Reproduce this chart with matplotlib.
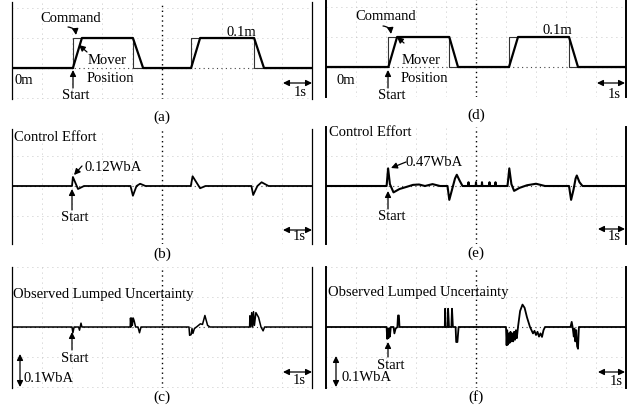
import matplotlib
matplotlib.use("Agg")
import matplotlib.pyplot as plt

plt.rcParams['font.family'] = ['Liberation Serif', 'DejaVu Serif']

W, H = 629, 406

# ---------------- data ----------------
# (a) position tracking, metres
a_cmd_t = [0, 2.03, 2.03, 4.03, 4.03, 5.97, 5.97, 8.07, 8.07, 10]
a_cmd_v = [0, 0, 0.1, 0.1, 0, 0, 0.1, 0.1, 0, 0]
a_pos_t = [0, 2.03, 2.33, 4.03, 4.37, 5.97, 6.27, 8.07, 8.40, 10]
a_pos_v = [0, 0, 0.1, 0.1, 0, 0, 0.1, 0.1, 0, 0]

# (d) position tracking, metres
d_cmd_t = [0, 2.08, 2.08, 4.11, 4.11, 6.10, 6.10, 8.10, 8.10, 10]
d_cmd_v = [0, 0, 0.1, 0.1, 0, 0, 0.1, 0.1, 0, 0]
d_pos_t = [0, 2.08, 2.37, 4.11, 4.40, 6.10, 6.40, 8.10, 8.40, 10]
d_pos_v = [0, 0, 0.1, 0.1, 0, 0, 0.1, 0.1, 0, 0]

# (b) control effort, WbA
b_t = [0, 2.0, 2.03, 2.2, 2.4, 3.95, 4.03, 4.15, 4.27, 4.45,
       5.96, 6.02, 6.27, 6.45, 7.98, 8.04, 8.18, 8.32, 8.55, 10]
b_v = [0, 0, 0.12, -0.04, 0, 0, -0.13, 0.0, 0.03, 0,
       0, 0.13, -0.03, 0, 0, -0.12, 0, 0.05, 0, 0]

# (e) control effort, WbA
e_t = [0, 2.02, 2.07, 2.13, 2.25, 2.45, 2.7, 2.9, 3.1, 3.3, 3.55, 3.8,
       4.05, 4.11, 4.2, 4.3, 4.36, 4.45, 4.55,
       4.74, 4.75, 4.76, 4.99, 5.0, 5.01, 5.19, 5.2, 5.21, 5.44, 5.45, 5.46,
       5.64, 5.65, 5.66,
       6.05, 6.11, 6.18, 6.27, 6.45, 6.7, 7.0, 7.3,
       8.10, 8.17, 8.25, 8.32, 8.36, 8.45, 8.55, 10]
e_v = [0, 0, 0.47, 0.05, -0.17, -0.08, -0.02, 0.03, 0.04, 0.0, 0.05, 0.0,
       0, -0.37, -0.1, 0.2, 0.3, 0.15, 0,
       0, 0.1, 0, 0, 0.1, 0, 0, 0.1, 0, 0, 0.1, 0,
       0, 0.1, 0,
       0, 0.47, 0.05, -0.13, -0.05, 0.02, 0.06, 0.0,
       0, -0.37, -0.1, 0.2, 0.28, 0.1, 0, 0]

# (c) observed lumped uncertainty, WbA
c_t = [0, 2.0, 2.03, 2.07, 2.22, 2.25, 2.3, 2.33,
       3.94, 3.95, 3.97, 3.99, 4.01, 4.04, 4.07, 4.12, 4.2, 4.25, 4.3,
       5.9, 5.92, 5.97, 6.0, 6.03, 6.08, 6.15, 6.28, 6.35, 6.43, 6.52, 6.6,
       7.92, 7.93, 7.96, 7.99, 8.02, 8.05, 8.08, 8.13, 8.22, 8.3, 8.37, 8.42, 10]
c_v = [0, 0, -0.018, 0, 0, -0.01, 0.012, 0,
       0, 0.028, 0.0, 0.028, 0.005, 0.028, 0.02, 0.0, 0.0, -0.018, 0,
       0, -0.026, -0.024, -0.005, -0.02, -0.005, 0.0, 0.01, 0.008, 0.036, 0.005, 0,
       0, 0.035, 0.0, 0.045, 0.0, 0.048, 0.005, 0.045, 0.03, 0.0, -0.012, 0, 0]

# (f) observed lumped uncertainty, WbA
f_t = [0, 2.02, 2.04, 2.06, 2.08, 2.10, 2.13, 2.16, 2.25, 2.28, 2.32, 2.38, 2.4, 2.43, 2.45,
       3.96, 3.97, 3.99, 4.06, 4.07, 4.10, 4.18, 4.20, 4.23, 4.32, 4.34, 4.38, 4.42,
       6.0, 6.02, 6.04, 6.06, 6.09, 6.12, 6.15, 6.18, 6.21, 6.24, 6.27, 6.3, 6.33, 6.36, 6.4,
       6.47, 6.55, 6.62, 6.7, 6.8, 6.85, 6.9, 6.95, 7.0, 7.05, 7.1, 7.15, 7.2, 7.25, 7.3,
       8.15, 8.19, 8.22, 8.26, 8.28, 8.31, 8.34, 8.37, 8.4, 8.43, 10]
f_v = [0, 0, -0.037, -0.005, -0.035, -0.005, -0.03, 0, 0, -0.02, -0.005, 0.0, 0.036, 0.036, 0,
       0, 0.057, 0.0, 0.0, 0.057, 0.0, 0.0, 0.057, 0.0, 0.0, -0.047, -0.047, 0,
       0, -0.057, -0.01, -0.055, -0.02, -0.05, -0.015, -0.045, -0.02, -0.045, -0.015, -0.04, -0.01, -0.035, 0,
       0.05, 0.07, 0.06, 0.03, 0.0, -0.01, -0.02, -0.012, -0.025, -0.015, -0.03, -0.02, -0.031, -0.01, 0,
       0, 0.016, 0.0, -0.03, -0.005, -0.045, -0.01, -0.06, -0.068, 0, 0]

captions = ['(a)', '(b)', '(c)', '(d)', '(e)', '(f)']

# ---------------- layout ----------------
fig = plt.figure(figsize=(W / 100, H / 100), dpi=100)


def P(x, y):
    return (x / W, 1 - y / H)


def make_ax(x0, y0, x1, y1, base, scale, lw_spine):
    ax = fig.add_axes([x0 / W, 1 - y1 / H, (x1 - x0) / W, (y1 - y0) / H])
    ax.set_xlim(0, 10)
    ax.set_ylim(-(y1 - base) / scale, (base - y0) / scale)
    for s in ['top', 'bottom']:
        ax.spines[s].set_visible(False)
    for s in ['left', 'right']:
        ax.spines[s].set_linewidth(lw_spine)
        ax.spines[s].set_color('black')
    ax.set_xticks([])
    ax.set_yticks([])
    ax.patch.set_alpha(0)
    # graticule
    for t in range(1, 10):
        if t == 5:
            ax.axvline(t, color='black', lw=1.0, ls=(0, (1, 2.5)), zorder=1)
        else:
            ax.axvline(t, color='#b5b5b5', lw=0.6, ls=(0, (1, 5)), zorder=1)
    step = 30 / scale
    for k in (-2, -1, 1, 2):
        ax.axhline(k * step, color='#b5b5b5', lw=0.6, ls=(0, (1, 5)), zorder=1)
    ax.axhline(0, color='#444444', lw=0.8, ls=(0, (1, 3)), zorder=1)
    return ax


axa = make_ax(12, 3, 312, 100, 69, 300, 0.9)
axd = make_ax(326, 0, 626, 98, 68, 300, 1.4)
axb = make_ax(12, 130, 312, 245, 187, 75, 0.9)
axe = make_ax(326, 128, 626, 245, 187, 37.5, 1.4)
axc = make_ax(12, 268, 312, 389, 328, 320, 0.9)
axf = make_ax(326, 268, 626, 389, 328, 320, 1.4)

# traces
for ax, ct, cv, pt, pv in [(axa, a_cmd_t, a_cmd_v, a_pos_t, a_pos_v),
                           (axd, d_cmd_t, d_cmd_v, d_pos_t, d_pos_v)]:
    ax.plot(ct, cv, color='#333333', lw=0.8, zorder=3)
    ax.plot(pt, pv, color='black', lw=1.6, zorder=4)

axb.plot(b_t, b_v, color='black', lw=1.3, zorder=4)
axe.plot(e_t, e_v, color='black', lw=1.5, zorder=4)
axc.plot(c_t, c_v, color='black', lw=1.1, zorder=4)
axf.plot(f_t, f_v, color='black', lw=1.3, zorder=4)

FS = 10.5
arr = dict(arrowstyle='-|>', color='black', lw=0.9, mutation_scale=9, shrinkA=0, shrinkB=0)
darr = dict(arrowstyle='<|-|>', color='black', lw=0.9, mutation_scale=9, shrinkA=0, shrinkB=0)


def txt(x, y, s, ha='center', size=FS):
    fig.text(*P(x, y), s, ha=ha, va='center', fontsize=size)


def arrow(x0, y0, x1, y1, props=arr, rad=0.0):
    p = dict(props)
    if rad:
        p['connectionstyle'] = 'arc3,rad=%g' % rad
    fig.add_artist(matplotlib.patches.FancyArrowPatch(
        P(x0, y0), P(x1, y1), transform=fig.transFigure, **p))


# (a)
txt(71, 18, 'Command')
arrow(68, 28, 76, 36, rad=-0.4)
txt(107, 60, 'Mover')
txt(110, 78, 'Position')
arrow(87, 53, 79, 46)
txt(24, 80, '0m')
txt(76, 96, 'Start')
arrow(73, 89, 73, 71)
txt(241, 32, '0.1m')
arrow(283, 84, 312, 84, darr)
txt(300, 93, '1s')

# (d)
txt(386, 17, 'Command')
arrow(383, 27, 391, 35, rad=-0.4)
txt(421, 61, 'Mover')
txt(424, 78, 'Position')
arrow(404, 44, 397, 38)
txt(346, 80, '0m')
txt(392, 96, 'Start')
arrow(388, 89, 388, 71)
txt(557, 31, '0.1m')
arrow(597, 84, 625, 84, darr)
txt(614, 94, '1s')

# (b)
txt(14, 138, 'Control Effort', ha='left')
txt(113, 168, '0.12WbA')
arrow(82, 167, 74, 176)
txt(75, 218, 'Start')
arrow(72, 211, 72, 190)
arrow(283, 231, 312, 231, darr)
txt(299, 237, '1s')

# (e)
txt(329, 133, 'Control Effort', ha='left')
txt(434, 162, '0.47WbA')
arrow(406, 163, 391, 169)
txt(392, 217, 'Start')
arrow(388, 210, 388, 192)
arrow(598, 230, 625, 230, darr)
txt(614, 237, '1s')

# (c)
txt(13, 295, 'Observed Lumped Uncertainty', ha='left')
txt(75, 359, 'Start')
arrow(72, 351, 72, 333)
arrow(20, 355, 20, 388, darr)
txt(24, 379, '0.1WbA', ha='left')
arrow(283, 373, 312, 373, darr)
txt(299, 381, '1s')

# (f)
txt(328, 293, 'Observed Lumped Uncertainty', ha='left')
txt(391, 366, 'Start')
arrow(388, 358, 388, 343)
arrow(336, 357, 336, 388, darr)
txt(341, 378, '0.1WbA', ha='left')
arrow(598, 373, 625, 373, darr)
txt(616, 382, '1s')

# captions
for (x, y), s in zip([(162, 117), (162, 254), (162, 397), (476, 115), (476, 253), (476, 397)], captions):
    txt(x, y, s, size=11)

fig.savefig('out.png', dpi=100)
